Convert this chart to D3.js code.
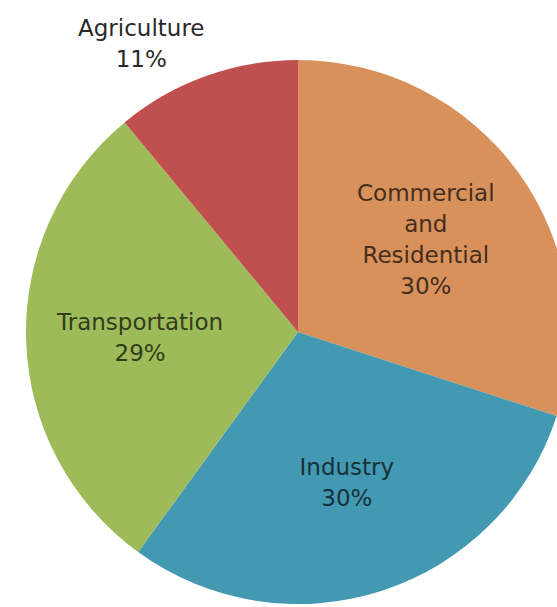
<!DOCTYPE html>
<html>
<head>
<meta charset="utf-8">
<script src="https://cdn.jsdelivr.net/npm/d3@7"></script>
<style>
  body { margin: 0; background: #fff; }
  text { font-family: "DejaVu Sans", Verdana, sans-serif; font-size: 23px; }
</style>
</head>
<body>
<div id="chart"></div>
<script>
// sectors, clockwise from 12 o'clock
var categories = ["Commercial\nand\nResidential", "Industry", "Transportation", "Agriculture"];
var shares = [30, 30, 29, 11];
var colors = ["#D8915B", "#4299B1", "#9DBB58", "#C0504D"];

var svgWidth = 557;
var svgHeight = 607;
var cx = 298, cy = 332;
var radius = 272;
var lineHeight = 31;

var svg = d3.select("#chart")
  .append("svg")
  .attr("width", svgWidth)
  .attr("height", svgHeight);

var pieGroup = svg.append("g")
  .attr("transform", `translate(${cx}, ${cy})`);

var pie = d3.pie().sort(null).value(d => d);
var arcs = pie(shares);

var arc = d3.arc().innerRadius(0).outerRadius(radius);
var labelArc = d3.arc().innerRadius(158).outerRadius(158);
var edgeArc = d3.arc().innerRadius(radius + 4).outerRadius(radius + 4);

pieGroup.selectAll("path")
  .data(arcs)
  .enter()
  .append("path")
  .attr("d", arc)
  .attr("fill", (d, i) => colors[i]);

// labels: inside for big slices, outside end for the small one
arcs.forEach(function(d, i) {
  var lines = categories[i].split("\n").concat([shares[i] + "%"]);
  var inside = shares[i] > 15;
  var txtColor = inside ? d3.color(colors[i]).darker(3.2).formatHex() : "#2a2a2a";

  var g = pieGroup.append("g");
  var t = g.append("text")
    .attr("text-anchor", "middle")
    .attr("fill", txtColor);
  lines.forEach(function(line, j) {
    t.append("tspan")
      .attr("x", 0)
      .attr("y", (j - (lines.length - 1) / 2) * lineHeight)
      .attr("dy", "0.36em")
      .text(line);
  });

  if (inside) {
    var c = labelArc.centroid(d);
    g.attr("transform", `translate(${c[0]}, ${c[1]})`);
  } else {
    // put the box's near corner at the rim
    var p = edgeArc.centroid(d);
    var bb = t.node().getBBox();
    var gx = p[0] < 0 ? p[0] - bb.width / 2 : p[0] + bb.width / 2;
    var gy = p[1] < 0 ? p[1] - (bb.y + bb.height) : p[1] - bb.y;
    g.attr("transform", `translate(${gx}, ${gy})`);
  }
});
</script>
</body>
</html>
